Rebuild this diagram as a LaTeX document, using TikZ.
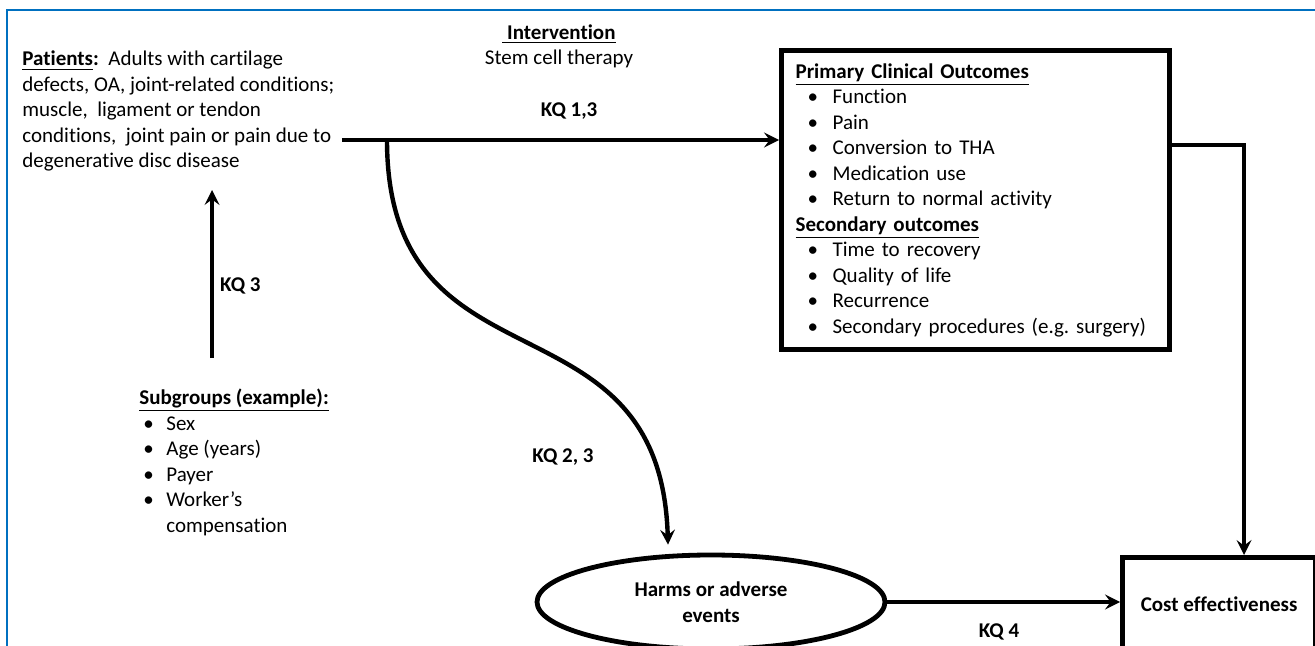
\documentclass[tikz,border=0pt]{standalone}
\usepackage{fontspec}
\setmainfont{Carlito}[Ligatures=NoCommon]
\usetikzlibrary{shapes.geometric, arrows}
\definecolor{frameblue}{RGB}{0,112,192}
\newcommand{\basefont}{\fontsize{10.5}{12.75}\selectfont\frenchspacing}
\newcommand{\bul}[1]{\hspace*{6pt}\makebox[12.5pt][l]{\textbullet}#1}
\newcommand{\subbul}[1]{\hspace*{2pt}\makebox[11.5pt][l]{\textbullet}#1}
\tikzstyle{block} = [rectangle, draw=black, line width=2.6pt]
\tikzstyle{oval} = [ellipse, draw=black, line width=2.4pt]
\tikzstyle{txt} = [inner sep=0pt, font=\basefont]
\tikzstyle{kq} = [inner sep=0pt, font=\basefont\bfseries]
\tikzstyle{arrow} = [line width=2.2pt,->,>=stealth]

\begin{document}
\begin{tikzpicture}[x=0.5pt, y=-0.5pt]
    \useasboundingbox (0,0) rectangle (1315,646);
    \draw [frameblue, line width=1pt] (7,646) -- (7,10) -- (1315,10);

    \node (patients) [txt, align=left, anchor=base west] at (22,168)
        {\underline{\textbf{Patients}}\textbf{:}\ \ Adults with cartilage\\
         defects, OA, joint-related conditions;\\
         muscle,\ \ ligament or tendon\\
         conditions,\ \ joint pain or pain due to\\
         degenerative disc disease};
    \node (interv) [txt, align=center, anchor=base] at (559,65)
        {\underline{\textbf{\ Intervention}}\\Stem cell therapy};
    \node (primary) [block, font=\basefont, align=left, text width=180pt, inner xsep=7pt, inner ysep=3pt, minimum height=149.5pt, anchor=north west] at (779,48)
        {\underline{\textbf{Primary Clinical Outcomes}}\\
         \bul{Function}\\
         \bul{Pain}\\
         \bul{Conversion to THA}\\
         \bul{Medication use}\\
         \bul{Return to normal activity}\\
         \underline{\textbf{Secondary outcomes}}\\
         \bul{Time to recovery}\\
         \bul{Quality of life}\\
         \bul{Recurrence}\\
         \bul{Secondary procedures (e.g. surgery)}};
    \node (subgroups) [txt, align=left, anchor=base west] at (139,532)
        {\underline{\textbf{Subgroups (example):}}\\
         \subbul{Sex}\\
         \subbul{Age (years)}\\
         \subbul{Payer}\\
         \subbul{Worker’s}\\
         \hspace*{13.5pt}compensation};
    \node (harms) [oval, font=\basefont\bfseries, align=center, minimum width=174pt, minimum height=47pt] at (711,602)
        {Harms or adverse\\events};
    \node (cost) [block, font=\basefont\bfseries, minimum width=96.5pt, minimum height=46.5pt, anchor=north west] at (1120,555)
        {Cost effectiveness};
    \node (kq23) [kq] at (563,457) {KQ 2, 3};

    % connectors
    \coordinate (branch) at (387,140);
    \coordinate (costtap) at (1244,145);
    \coordinate (kq3x) at (212,358);
    \draw [arrow] ([xshift=3.5pt]patients.east |- branch) -- node[kq, pos=0.52, anchor=base, yshift=11.5pt] {KQ 1,3} (primary.west |- branch);
    \draw [arrow] (branch) .. controls (387,400) and (660,285) .. ([xshift=-21.5pt, yshift=4pt]harms.north);
    \draw [arrow, shorten >=9pt] (kq3x) -- node[kq, pos=0.39, anchor=west, xshift=3pt] {KQ 3} (kq3x |- patients.south);
    \draw [arrow] (primary.east |- costtap) -- (costtap) -- (costtap |- cost.north);
    \draw [arrow] (harms.east) -- node[kq, pos=0.48, anchor=base, yshift=-17.5pt] {KQ 4} (cost.west |- harms.east);
\end{tikzpicture}
\end{document}
